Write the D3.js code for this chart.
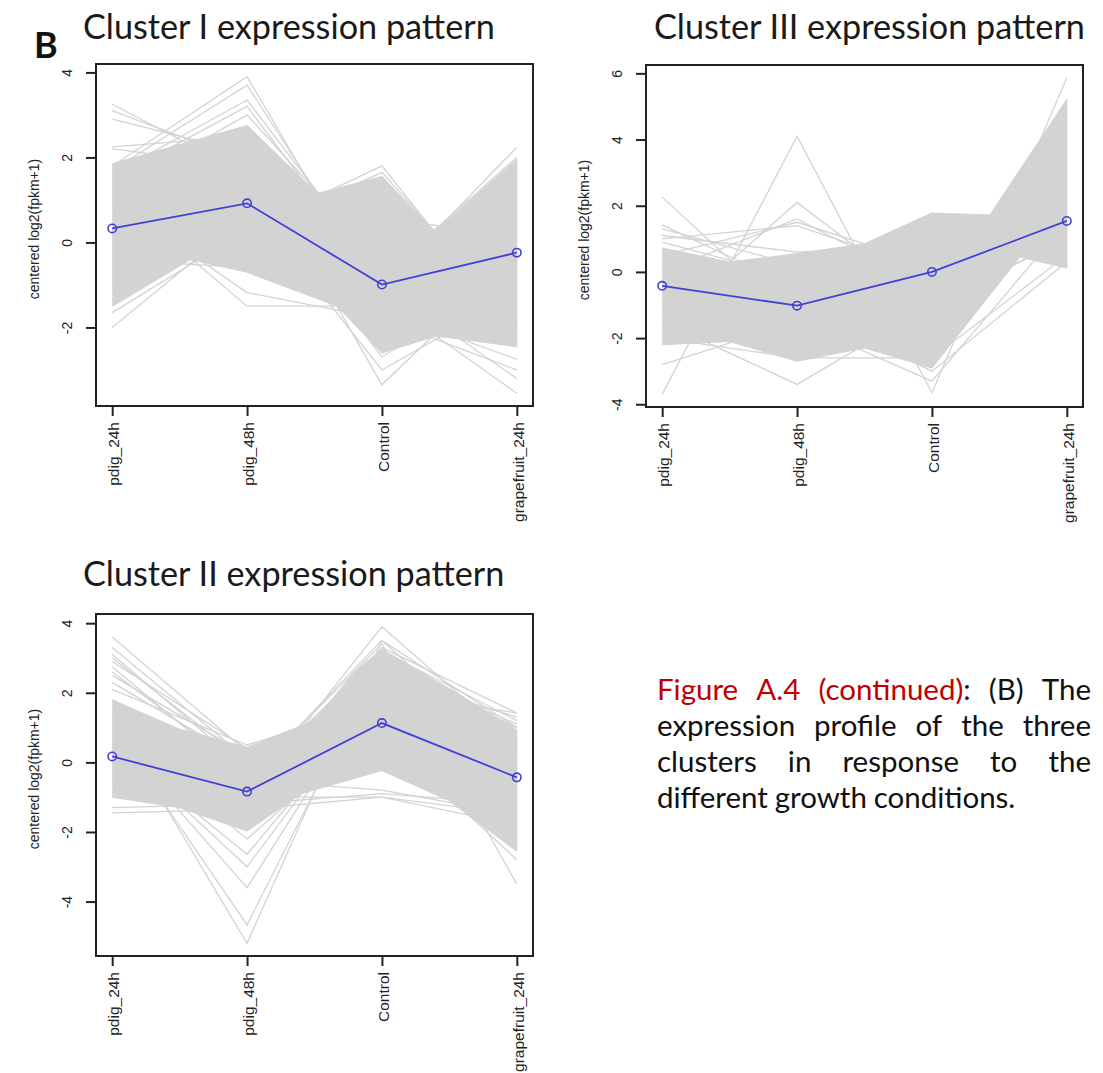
<!DOCTYPE html>
<html>
<head>
<meta charset="utf-8">
<script src="https://cdn.jsdelivr.net/npm/d3@7"></script>
<style>
  body { margin: 0; background: #fff; }
  svg { display: block; }
  .axis text { font-family: "Liberation Sans", Arial, sans-serif; fill: #222; }
</style>
</head>
<body>
<script>
const w = 1103;
const h = 1073;

const conditions = ["pdig_24h", "pdig_48h", "Control", "grapefruit_24h"];

// Cluster I: centroid, dense core outline [condition index, value], single profiles
const clusterI_mean = [0.33, 0.92, -0.99, -0.24];
const clusterI_ticks = [-2, 0, 2, 4];
const clusterI_core = [
  [0, 1.85], [1, 2.75], [1.52, 1.15], [2, 1.55], [2.39, 0.25], [3, 1.95],
  [3, -2.45], [2.4, -2.2], [2, -2.6], [1.67, -1.5], [1, -0.7], [0.58, -0.4], [0, -1.5]
];
const clusterI_genes = [
  [3.25, 1.6, 0.4, -0.8], [3.1, 1.9, 0.2, -1.0], [2.9, 2.1, 0.0, -0.6],
  [2.25, 2.5, -0.5, -0.4], [2.2, 1.8, 0.6, 0.1],
  [1.8, 3.9, -1.5, -0.8], [1.7, 3.7, -1.2, -0.5], [1.6, 3.35, -0.8, 0.0],
  [1.5, 3.2, -1.0, -1.2], [1.2, 3.0, -0.5, 0.2],
  [0.0, 0.3, 1.8, -2.2], [-0.3, 0.2, 1.65, -1.9], [0.4, 0.5, 1.4, -1.5],
  [-0.5, 2.2, -3.35, -0.3], [-1.0, 1.5, -2.7, -0.6], [-0.8, 1.0, -3.0, -1.2],
  [0.0, 0.8, -1.3, -3.55], [0.3, 1.0, -1.0, -3.2], [-0.2, 0.4, -1.6, -2.75],
  [-0.4, -0.6, -1.8, -3.0],
  [-0.3, 0.2, -1.04, 2.24], [0.2, 0.5, -0.8, 2.0], [-0.6, -0.2, -1.4, 1.7],
  [-2.0, 0.6, -1.5, -1.0], [-1.65, 0.3, -1.2, -0.5],
  [1.2, -1.5, -1.5, -2.0], [1.0, -1.18, -1.8, -2.0]
];

// Cluster III
const clusterIII_mean = [-0.42, -1.02, 0.0, 1.54];
const clusterIII_ticks = [-4, -2, 0, 2, 4, 6];
const clusterIII_core = [
  [0, 0.72], [0.5, 0.3], [1, 0.55], [1.5, 0.85], [2, 1.78], [2.43, 1.72], [3, 5.2],
  [3, 0.12], [2.65, 0.45], [2, -2.9], [1.5, -2.3], [1, -2.7], [0.5, -2.1], [0, -2.2]
];
const clusterIII_genes = [
  [-3.7, 4.1, -3.65, 5.87], [2.26, -1.5, -1.0, 1.0], [1.42, -0.5, 0.3, 1.5],
  [1.1, 0.6, 0.8, 2.0], [-1.5, 2.1, -1.0, 3.0], [0.0, 1.6, -0.5, 2.5],
  [1.0, 1.4, 0.0, 2.0], [0.5, 1.5, 0.2, 2.2], [1.3, 0.2, 0.5, 2.5], [0.9, -0.2, 0.4, 1.8],
  [-2.8, -1.5, -1.0, 1.0], [-2.0, -2.6, -2.6, 0.5], [-1.5, -3.4, -1.0, 1.0],
  [-1.0, -1.5, -3.3, 1.5], [-0.5, -1.0, -3.0, 0.3],
  [-1.0, -1.0, -1.0, 5.2], [-0.5, -1.5, -1.2, 5.0], [-1.2, -0.8, -1.5, 4.6],
  [-0.8, -1.2, -0.6, 4.3]
];

// Cluster II
const clusterII_mean = [0.17, -0.84, 1.13, -0.43];
const clusterII_ticks = [-4, -2, 0, 2, 4];
const clusterII_core = [
  [0, 1.8], [0.5, 0.95], [1, 0.43], [1.5, 1.2], [1.8, 2.6], [2, 3.25], [2.55, 2.0], [3, 0.93],
  [3, -2.55], [2.5, -1.1], [2, -0.23], [1.4, -0.9], [1, -1.97], [0.5, -1.3], [0, -1.0]
];
const clusterII_genes = [
  [3.6, 0.3, 1.5, 0.5], [2.75, -0.5, 2.0, 0.0], [3.0, 0.0, 2.5, 1.0], [2.5, 0.2, 1.8, 0.8],
  [3.3, 0.1, 1.6, 0.2], [3.1, -0.2, 2.2, 0.6], [2.9, 0.4, 1.9, 0.3], [2.6, -0.3, 1.4, -0.2],
  [2.3, 0.0, 2.1, 0.7], [2.1, 0.5, 1.7, 0.4],
  [-1.3, -1.2, -0.9, -1.2], [-1.45, -1.35, -1.0, -1.5],
  [1.3, -5.2, 3.5, 0.0], [1.0, -4.67, 3.0, 0.5], [0.8, -3.6, 2.5, 0.0],
  [0.5, -2.64, 2.0, -0.5], [1.0, -2.2, 1.2, 0.3], [0.6, -3.0, 2.2, -0.3],
  [0.0, -1.0, 3.9, 0.5], [0.5, -0.5, 3.5, 1.0], [-0.5, -1.5, 3.3, 1.42], [0.5, -0.5, 3.4, -3.5],
  [0.2, -0.6, 3.2, 1.2], [-0.2, -0.9, 2.9, 1.0], [0.3, -0.4, 3.0, 0.6],
  [0.5, -0.5, -0.8, -1.5], [0.0, -1.0, -1.0, -1.8],
  [-0.5, -0.8, 2.0, 1.42], [0.5, 0.0, 2.5, 1.3], [0.2, -0.3, 2.8, 1.1], [0.3, -1.0, 0.8, -2.8]
];

const captionLines = [
  "Figure A.4 (continued): (B) The",
  "expression profile of the three",
  "clusters in response to the",
  "different growth conditions."
];
const captionLead = "Figure A.4 (continued)";

const gray = "#d3d3d3";
const blue = "#4040d8";
const ink = "#222";

const svg = d3
  .select("body")
  .append("svg")
  .attr("width", w)
  .attr("height", h);

const panels = [
  { title: "Cluster I expression pattern", mean: clusterI_mean, core: clusterI_core,
    genes: clusterI_genes, ticks: clusterI_ticks, left: 96, top: 64, titleX: 83, titleY: 39 },
  { title: "Cluster III expression pattern", mean: clusterIII_mean, core: clusterIII_core,
    genes: clusterIII_genes, ticks: clusterIII_ticks, left: 646, top: 65, titleX: 654, titleY: 39 },
  { title: "Cluster II expression pattern", mean: clusterII_mean, core: clusterII_core,
    genes: clusterII_genes, ticks: clusterII_ticks, left: 96, top: 614, titleX: 83, titleY: 586 }
];
const pw = 437;
const ph = 342;

// title font size fitted so the first title spans ~412px
const probe = svg.append("text").attr("font-family", "Lato, 'Open Sans', sans-serif")
  .attr("font-size", 30).text(panels[0].title);
const titleSize = 30 * 412 / probe.node().getComputedTextLength();
probe.remove();

function drawPanel(p) {
  const g = svg.append("g").attr("transform", `translate(${p.left},${p.top})`);

  // R style: 4% padding around data range
  const vals = p.genes.flat();
  const lo = d3.min(vals), hi = d3.max(vals);
  const pad = (hi - lo) * 0.04;
  const x = d3.scaleLinear().domain([-0.12, 3.12]).range([0, pw]);
  const y = d3.scaleLinear().domain([lo - pad, hi + pad]).range([ph, 0]);

  g.append("path")
    .datum(p.core)
    .attr("d", d3.line().x((d) => x(d[0])).y((d) => y(d[1])))
    .attr("fill", gray)
    .attr("stroke", gray)
    .attr("stroke-width", 1.2)
    .attr("stroke-linejoin", "round");

  const profile = d3.line().x((d, i) => x(i)).y((d) => y(d));

  g.selectAll(".gene")
    .data(p.genes)
    .join("path")
    .attr("class", "gene")
    .attr("d", profile)
    .attr("fill", "none")
    .attr("stroke", gray)
    .attr("stroke-width", 1.3);

  g.append("path")
    .datum(p.mean)
    .attr("d", profile)
    .attr("fill", "none")
    .attr("stroke", blue)
    .attr("stroke-width", 1.8);

  g.selectAll(".pt")
    .data(p.mean)
    .join("circle")
    .attr("class", "pt")
    .attr("cx", (d, i) => x(i))
    .attr("cy", (d) => y(d))
    .attr("r", 4.2)
    .attr("fill", "none")
    .attr("stroke", blue)
    .attr("stroke-width", 1.6);

  // y axis, labels parallel to axis like R
  const ya = g.append("g").attr("class", "axis")
    .call(d3.axisLeft(y).tickValues(p.ticks).tickSize(10).tickFormat((d) => String(d)));
  ya.select(".domain").remove();
  ya.selectAll("line").attr("stroke", ink).attr("stroke-width", 2);
  ya.selectAll("text")
    .attr("x", null).attr("dy", null)
    .attr("text-anchor", "middle")
    .attr("font-size", 14)
    .attr("transform", "translate(-24,0) rotate(-90)");

  // x axis with vertical labels
  const xa = g.append("g").attr("class", "axis")
    .attr("transform", `translate(0,${ph})`)
    .call(d3.axisBottom(x).tickValues(d3.range(conditions.length)).tickSize(10)
      .tickFormat((i) => conditions[i]));
  xa.select(".domain").remove();
  xa.selectAll("line").attr("stroke", ink).attr("stroke-width", 2);
  xa.selectAll("text")
    .attr("y", null).attr("dy", "0.36em")
    .attr("text-anchor", "end")
    .attr("font-size", 15.5)
    .attr("transform", "translate(1,16) rotate(-90)");

  // frame
  g.append("rect")
    .attr("width", pw).attr("height", ph)
    .attr("fill", "none").attr("stroke", ink).attr("stroke-width", 2);

  g.append("text")
    .attr("class", "axis")
    .attr("transform", `translate(-57,${ph / 2 - 6}) rotate(-90)`)
    .attr("text-anchor", "middle")
    .attr("font-family", "'Liberation Sans', Arial, sans-serif")
    .attr("font-size", 14)
    .attr("fill", ink)
    .text("centered log2(fpkm+1)");

  svg.append("text")
    .attr("x", p.titleX).attr("y", p.titleY)
    .attr("font-family", "Lato, 'Open Sans', sans-serif")
    .attr("font-size", titleSize)
    .attr("fill", "#1a1a1a")
    .text(p.title);
}

panels.forEach(drawPanel);

svg.append("text")
  .attr("x", 34).attr("y", 58)
  .attr("font-family", "Lato, 'Open Sans', sans-serif")
  .attr("font-weight", "bold")
  .attr("font-size", 36)
  .attr("fill", "#111")
  .text("B");

// justified caption
const capLeft = 657;
const capWidth = 434;
const capFont = "Lato, 'Open Sans', sans-serif";
const capProbe = svg.append("text").attr("font-family", capFont).attr("font-size", 30)
  .text(captionLines[3]);
const capSize = 30 * 360 / capProbe.node().getComputedTextLength();
capProbe.remove();
const leadWords = captionLead.split(" ").length;

captionLines.forEach((line, li) => {
  const words = line.split(" ");
  const baseY = 700 + li * 36;
  const nodes = words.map((wd, wi) => {
    const t = svg.append("text")
      .attr("y", baseY)
      .attr("font-family", capFont)
      .attr("font-size", capSize)
      .attr("fill", "#111");
    if (li === 0 && wi < leadWords) {
      const core = wd.replace(/:$/, "");
      t.append("tspan").attr("fill", "#c00000").text(core);
      if (core !== wd) t.append("tspan").text(":");
    } else {
      t.text(wd);
    }
    return t;
  });
  const widths = nodes.map((n) => n.node().getComputedTextLength());
  const last = li === captionLines.length - 1;
  const gap = last ? capSize * 0.23 : (capWidth - d3.sum(widths)) / (words.length - 1);
  let cx = capLeft;
  nodes.forEach((n, i) => {
    n.attr("x", cx);
    cx += widths[i] + gap;
  });
});
</script>
</body>
</html>
